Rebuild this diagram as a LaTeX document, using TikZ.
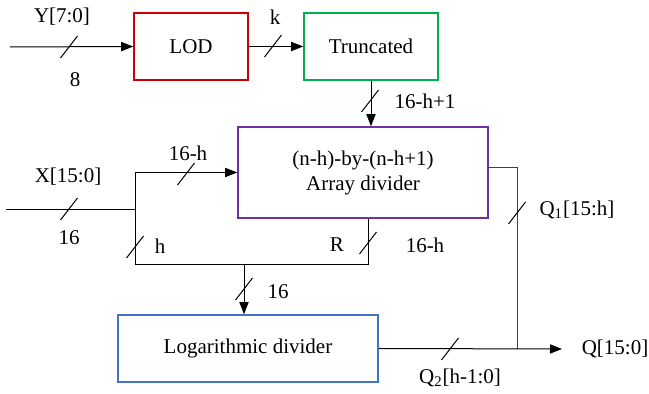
\documentclass[tikz,border=0pt]{standalone}
\usepackage{fontspec}
\setmainfont{Liberation Serif}
\usetikzlibrary{arrows.meta,shadows}
\definecolor{lodred}{RGB}{204,0,0}
\definecolor{trgreen}{RGB}{0,176,80}
\definecolor{arpurple}{RGB}{112,48,160}
\definecolor{lgblue}{RGB}{68,114,196}
\tikzset{
  blk/.style={draw, line width=0.8pt, fill=white, inner sep=0pt, align=center,
    drop shadow={shadow xshift=0.7pt, shadow yshift=-0.7pt, opacity=0.15}},
  wire/.style={line width=0.5pt},
  arr/.style={wire, -{Triangle[length=6pt,width=4.6pt]}},
  lbl/.style={inner sep=0pt},
  bus/.style={line width=0.5pt}
}
\newcommand{\busmark}[2]{\draw[bus] (#1-8.5,#2+11) -- (#1+8.5,#2-11);}
\begin{document}
\begin{tikzpicture}[x=0.5pt,y=-0.5pt,font=\fontsize{10.5pt}{12.5pt}\selectfont]
\useasboundingbox (0,0) rectangle (649,394);
% blocks
\node[blk, draw=lodred, minimum width=57pt, minimum height=33.5pt] (lod) at (191,46.5) {LOD};
\node[blk, draw=trgreen, minimum width=67pt, minimum height=33.5pt] (tr) at (371,46.5) {Truncated};
\node[blk, draw=arpurple, minimum width=125pt, minimum height=45.5pt] (ad) at (363,172.5) {};
\node[lbl] (adt1) at (363,160) {(n-h)-by-(n-h+1)};
\node[lbl] (adt2) at (363,185) {Array divider};
\node[blk, draw=lgblue, minimum width=130pt, minimum height=33.5pt] (lg) at (248,348.5) {Logarithmic divider};
% coordinates
\coordinate (yin) at (10,47);
\coordinate (xin) at (6,210);
\coordinate (xj) at (135,210);
\coordinate (bl) at (135,265);
\coordinate (br) at (368,265);
\coordinate (lj) at (244,265);
\coordinate (q1a) at (488,168);
\coordinate (qj) at (517,349);
\coordinate (qend) at (562,349);
% connectors
\draw[arr] (yin) -- (lod.west);
\draw[arr] (lod.east) -- (tr.west);
\draw[arr] (tr.south) -- (tr.south |- ad.north);
\draw[wire] (xin) -- (xj);
\draw[arr] (xj) |- (ad.west);
\draw[wire] (xj) -- (bl) -- (br) -- (br |- ad.south);
\draw[arr] (lj) -- (lj |- lg.north);
\draw[wire, black!75] (q1a) -| (qj);
\draw[arr] (lg.east) -- (qend);
% bus marks
\busmark{69}{47}
\busmark{273}{46}
\busmark{370}{101}
\busmark{69}{209}
\busmark{186}{174}
\busmark{135}{247}
\busmark{368}{243}
\busmark{517}{213}
\busmark{244}{289}
\busmark{450}{349}
% labels
\node[lbl] (ly) at (62,17) {Y[7:0]};
\node[lbl] (l8) at (75,80) {8};
\node[lbl] (lk) at (275,17) {k};
\node[lbl] (ltr) at (425,101) {16-h+1};
\node[lbl] (lx) at (68,177) {X[15:0]};
\node[lbl] (l16a) at (69,238) {16};
\node[lbl] (l16h) at (188,153) {16-h};
\node[lbl] (lh) at (160,246) {h};
\node[lbl] (lr) at (337,245) {R};
\node[lbl] (l16h2) at (425,245) {16-h};
\node[lbl] (lq1) at (577,210) {Q\textsubscript{1}[15:h]};
\node[lbl] (l16b) at (278,292) {16};
\node[lbl] (lq2) at (460,378) {Q\textsubscript{2}[h-1:0]};
\node[lbl] (lq) at (615,349) {Q[15:0]};
\end{tikzpicture}
\end{document}
